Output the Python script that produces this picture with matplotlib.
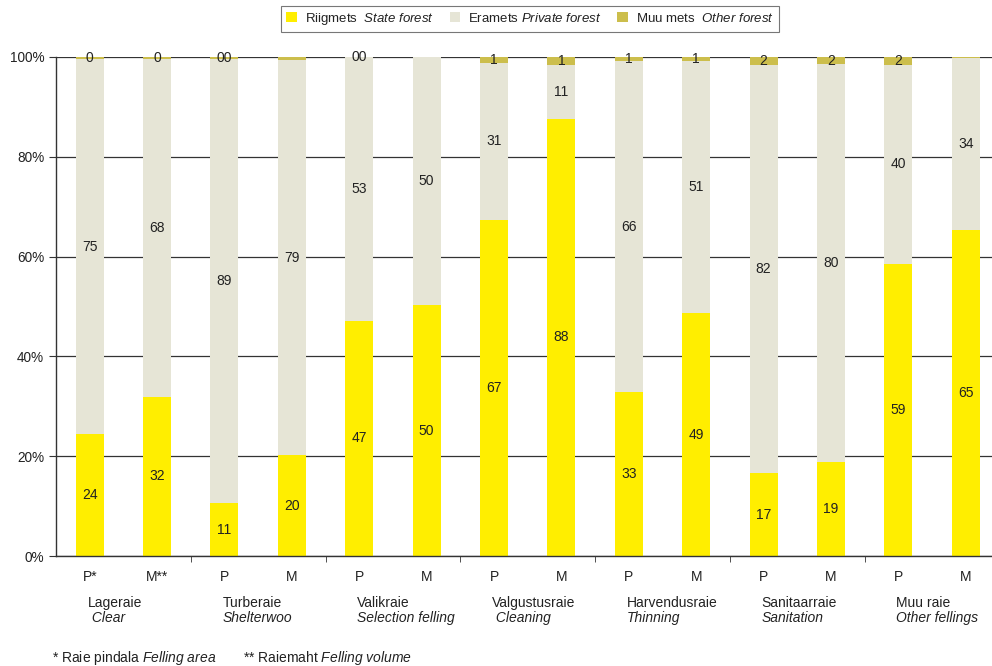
import matplotlib
matplotlib.use("Agg")
import matplotlib.pyplot as plt
import matplotlib.transforms as mtransforms

plt.rcParams["font.family"] = ["Liberation Sans", "DejaVu Sans"]
plt.rcParams["mathtext.fontset"] = "custom"
plt.rcParams["mathtext.rm"] = "Liberation Sans"
plt.rcParams["mathtext.it"] = "Liberation Sans:italic"

# data (percent of total)
bar_labels = ["P*", "M**", "P", "M", "P", "M", "P", "M", "P", "M", "P", "M", "P", "M"]
groups_et = ["Lageraie", "Turberaie", "Valikraie", "Valgustusraie", "Harvendusraie", "Sanitaarraie", "Muu raie"]
groups_en = [" Clear", "Shelterwoo", "Selection felling", " Cleaning", "Thinning", "Sanitation", "Other fellings"]
state = [24.4, 31.9, 10.6, 20.2, 47.1, 50.3, 67.4, 87.6, 32.8, 48.6, 16.6, 18.8, 58.6, 65.4]
private = [75.1, 67.6, 89.0, 79.2, 52.9, 49.7, 31.4, 10.8, 66.4, 50.6, 81.8, 79.7, 39.8, 34.4]
other = [0.5, 0.5, 0.4, 0.6, 0.0, 0.0, 1.2, 1.6, 0.8, 0.8, 1.6, 1.5, 1.6, 0.2]
other_labels = ["0", "0", "00", "", "00", "", "1", "1", "1", "1", "2", "2", "2", ""]

c_state = "#FFEE00"
c_private = "#E6E5D6"
c_other = "#CCBE4C"
txt = "#222222"

fig = plt.figure(figsize=(9.92, 6.66), dpi=100)
ax = fig.add_axes([56 / 992, 110 / 666, (992 - 56) / 992, (556 - 57) / 666])

x = list(range(len(bar_labels)))
w = 0.415
bottom2 = [s + p for s, p in zip(state, private)]
ax.bar(x, state, w, color=c_state, label=r"Riigmets  $\it{State\ forest}$")
ax.bar(x, private, w, bottom=state, color=c_private, label=r"Eramets $\it{Private\ forest}$")
ax.bar(x, other, w, bottom=bottom2, color=c_other, label=r"Muu mets  $\it{Other\ forest}$")

for i in x:
    ax.text(i, state[i] / 2, f"{state[i]:.0f}", ha="center", va="center", fontsize=10, color=txt)
    ax.text(i, state[i] + private[i] / 2, f"{private[i]:.0f}", ha="center", va="center", fontsize=10, color=txt)
    if other_labels[i]:
        ax.text(i, bottom2[i] + other[i] / 2, other_labels[i], ha="center", va="center", fontsize=10, color=txt)

ax.set_xlim(-0.5, 13.39)
ax.set_ylim(0, 100)
ax.set_yticks([0, 20, 40, 60, 80, 100])
ax.set_yticklabels(["0%", "20%", "40%", "60%", "80%", "100%"])
ax.yaxis.grid(True, color="#333333", linewidth=0.9)
ax.set_axisbelow(True)

ax.set_xticks(x)
ax.set_xticklabels(bar_labels)
ax.set_xticks([1.5, 3.5, 5.5, 7.5, 9.5, 11.5], minor=True)
ax.tick_params(axis="x", which="major", length=0, pad=10, labelsize=10, labelcolor=txt)
ax.tick_params(axis="x", which="minor", length=4, direction="out", color="#333333")
ax.tick_params(axis="y", length=5, direction="out", color="#333333", labelsize=9.8, labelcolor=txt)

for s in ["top", "right"]:
    ax.spines[s].set_visible(False)
for s in ["left", "bottom"]:
    ax.spines[s].set_color("#333333")
    ax.spines[s].set_linewidth(1.0)

trans = mtransforms.blended_transform_factory(ax.transData, fig.transFigure)
for g in range(len(groups_et)):
    gx = 2 * g - 0.03
    ax.text(gx, 1 - 603 / 666, groups_et[g], transform=trans, ha="left", va="center", fontsize=10, color=txt)
    ax.text(gx, 1 - 618 / 666, groups_en[g], transform=trans, ha="left", va="center", fontsize=10,
            color=txt, style="italic")

fig.text(52 / 992, 1 - 658 / 666, r"* Raie pindala $\it{Felling\ area}$", ha="left", va="center", fontsize=10, color=txt)
fig.text(243 / 992, 1 - 658 / 666, r"** Raiemaht $\it{Felling\ volume}$", ha="left", va="center", fontsize=10, color=txt)

leg = ax.legend(loc="center", bbox_to_anchor=(530 / 992, 1 - 19 / 666), bbox_transform=fig.transFigure,
                ncol=3, frameon=True, fancybox=False, fontsize=9.5, handlelength=0.8, handleheight=0.8,
                handletextpad=0.6, columnspacing=1.2, borderpad=0.4, edgecolor="#555555")
leg.get_frame().set_linewidth(0.8)
for t in leg.get_texts():
    t.set_color(txt)

fig.savefig("out.png", dpi=100)
